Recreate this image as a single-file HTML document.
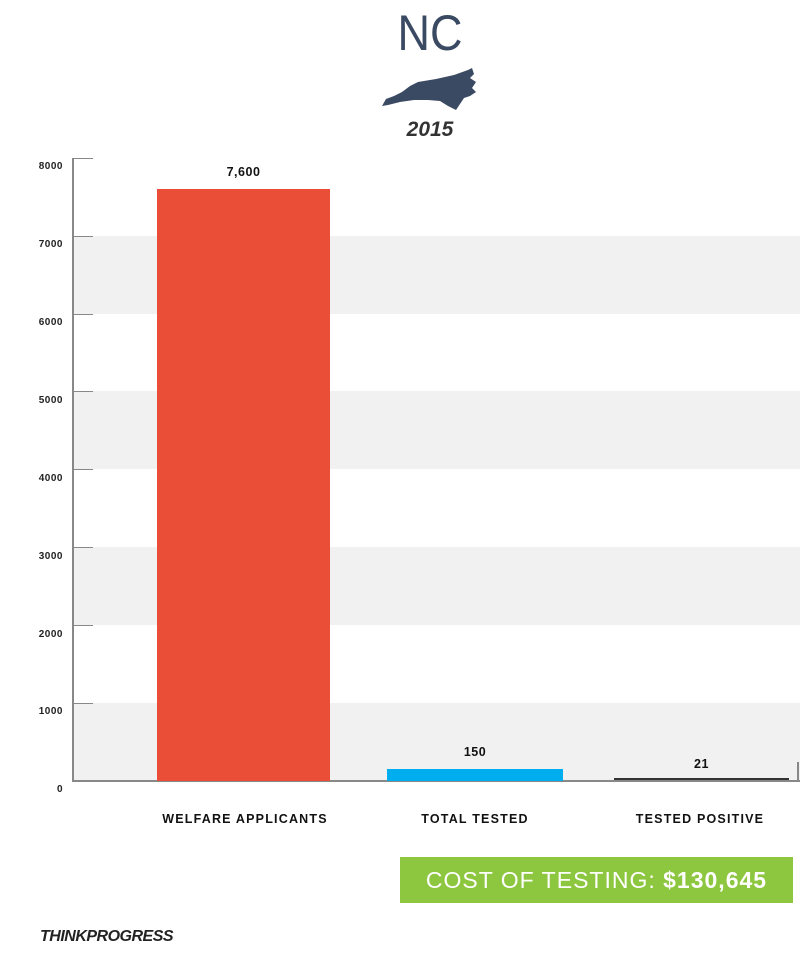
<!DOCTYPE html>
<html><head><meta charset="utf-8"><style>
body{margin:0;width:800px;height:953px;background:#fff;position:relative;overflow:hidden;font-family:"Liberation Sans",sans-serif}
.a{position:absolute}
.yl{position:absolute;left:20px;width:43px;text-align:right;font-size:10px;font-weight:bold;color:#222;letter-spacing:0.5px}
.band{position:absolute;left:73px;width:727px;height:78px;background:#f1f1f1}
.tick{position:absolute;left:73px;width:20px;height:1px;background:#888}
.cat{position:absolute;top:812px;font-size:12.5px;font-weight:bold;letter-spacing:1.2px;color:#111;text-align:center}
.val{position:absolute;font-size:12.5px;font-weight:bold;color:#111;text-align:center;letter-spacing:0.5px}
</style></head><body>
<div class="a" style="left:380px;top:4px;width:100px;text-align:center;font-size:50px;color:#3b4a63;transform:scaleX(0.9)">NC</div>
<svg class="a" style="left:380px;top:66px" width="100" height="46" viewBox="0 0 100 46">
<path d="M2,40 L6,33 L14,30 L22,26 L30,20 L38,16 L56,13 L74,9 L88,4 L92,2 L94,8 L90,12 L96,16 L92,22 L96,26 L90,30 L84,32 L80,38 L76,44 L68,40 L60,35 L48,34 L34,34 L20,36 L8,39 Z" fill="#3b4a63"/></svg>
<div class="a" style="left:380px;top:118px;width:100px;text-align:center;font-size:21px;font-weight:bold;font-style:italic;color:#333">2015</div>

<div class="band" style="top:236px"></div>
<div class="band" style="top:391px"></div>
<div class="band" style="top:547px"></div>
<div class="band" style="top:703px"></div>
<div class="a" style="left:72px;top:158px;width:2px;height:624px;background:#888"></div>
<div class="a" style="left:72px;top:780px;width:728px;height:2px;background:#888"></div>
<div class="a" style="left:797px;top:762px;width:2px;height:20px;background:#888"></div>
<div class="tick" style="top:158px"></div><div class="tick" style="top:236px"></div><div class="tick" style="top:314px"></div><div class="tick" style="top:391px"></div><div class="tick" style="top:469px"></div><div class="tick" style="top:547px"></div><div class="tick" style="top:625px"></div><div class="tick" style="top:703px"></div>
<div class="yl" style="top:161px">8000</div>
<div class="yl" style="top:239px">7000</div>
<div class="yl" style="top:317px">6000</div>
<div class="yl" style="top:395px">5000</div>
<div class="yl" style="top:473px">4000</div>
<div class="yl" style="top:551px">3000</div>
<div class="yl" style="top:629px">2000</div>
<div class="yl" style="top:706px">1000</div>
<div class="yl" style="top:784px">0</div>

<div class="a" style="left:157px;top:189px;width:173px;height:592px;background:#eb4e36"></div>
<div class="a" style="left:387px;top:769px;width:176px;height:12px;background:#00aeef"></div>
<div class="a" style="left:614px;top:778px;width:175px;height:2px;background:#333"></div>
<div class="val" style="left:157px;top:165px;width:173px">7,600</div>
<div class="val" style="left:387px;top:745px;width:176px">150</div>
<div class="val" style="left:614px;top:757px;width:175px">21</div>

<div class="cat" style="left:140px;width:210px">WELFARE APPLICANTS</div>
<div class="cat" style="left:375px;width:200px">TOTAL TESTED</div>
<div class="cat" style="left:600px;width:200px">TESTED POSITIVE</div>

<div class="a" style="left:400px;top:857px;width:393px;height:46px;background:#8dc63f;color:#fff;font-size:23px;line-height:46px;text-align:center;letter-spacing:1px">COST OF TESTING: <b>$130,645</b></div>
<div class="a" style="left:40px;top:928px;font-size:16px;font-weight:bold;font-style:italic;color:#222;letter-spacing:-0.5px">THINKPROGRESS</div>
</body></html>
